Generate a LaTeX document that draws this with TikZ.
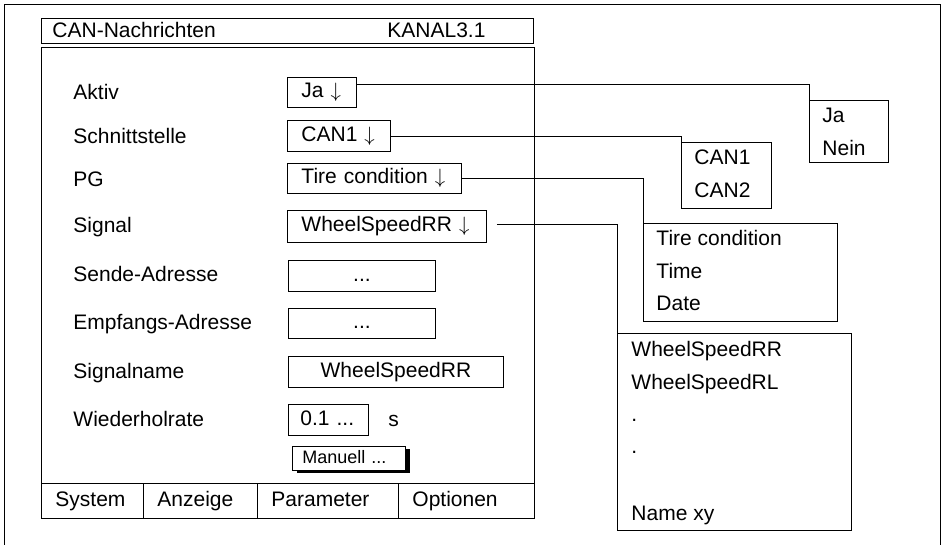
\documentclass[tikz,border=0pt]{standalone}
\usepackage{fontspec}
\setmainfont{Liberation Sans}
\usetikzlibrary{shadows}
\newcommand{\dnarrow}{$\downarrow$}
\begin{document}
\begin{tikzpicture}[x=1pt,y=-1pt,line width=0.9pt,
        every node/.style={font=\fontsize{21}{24}\selectfont},
        lbl/.style={anchor=base west,inner sep=0pt},
        box/.style={draw,anchor=north west,inner xsep=14pt,inner ysep=0pt,align=left,
            text height=15pt,text depth=4pt},
        cbox/.style={box,align=center}]
    \useasboundingbox (0,0) rectangle (942,544);
    % frame and window
    \draw (4,560) -- (4,4) -- (940,4) -- (940,560);
    \node[box,minimum width=492pt,minimum height=25pt] (title) at (41,18) {};
    \node[lbl] (titlel) at (52,37) {CAN-Nachrichten};
    \node[lbl] (titler) at (387,37) {KANAL3.1};
    \node[box,minimum width=493pt,minimum height=436pt] (panel) at (41,47) {};
    % labels
    \node[lbl] (l1) at (73,99) {Aktiv};
    \node[lbl] (l2) at (73,143) {Schnittstelle};
    \node[lbl] (l3) at (73,186) {PG};
    \node[lbl] (l4) at (73,232) {Signal};
    \node[lbl] (l5) at (73,281) {Sende-Adresse};
    \node[lbl] (l6) at (73,329) {Empfangs-Adresse};
    \node[lbl] (l7) at (73,378) {Signalname};
    \node[lbl] (l8) at (73,426) {Wiederholrate};
    % fields
    \node[box,text width=41pt,minimum height=30pt] (aktiv) at (287,77) {Ja \dnarrow};
    \node[box,text width=75pt,minimum height=31pt] (schnitt) at (287,120) {CAN1 \dnarrow};
    \node[box,text width=146pt,minimum height=30pt] (pg) at (287,163) {Tire condition \dnarrow};
    \node[box,text width=171pt,minimum height=32pt] (signal) at (287,210) {WheelSpeedRR \dnarrow};
    \node[cbox,text width=119pt,minimum height=31pt] (sende) at (288,260) {...};
    \node[cbox,text width=119pt,minimum height=30pt] (empf) at (288,308) {...};
    \node[cbox,text width=187pt,minimum height=31pt] (sname) at (288,356) {WheelSpeedRR};
    \node[box,inner xsep=12pt,text width=56pt,minimum height=31pt] (rate) at (288,404) {0.1 ...};
    \node[lbl] (unit) at (388,426) {s};
    \node[box,fill=white,inner xsep=10pt,text width=93pt,minimum height=24pt,
        text height=13pt,text depth=3pt,font=\fontsize{18}{21}\selectfont,
        drop shadow={shadow xshift=5pt,shadow yshift=-3pt,fill=black,opacity=1}] (manuell) at (292,446) {Manuell ...};
    % menu
    \node[box,text width=74pt,minimum height=35pt] (m1) at (41,483) {System};
    \node[box,text width=86pt,minimum height=35pt] (m2) at (143,483) {Anzeige};
    \node[box,text width=113pt,minimum height=35pt] (m3) at (257,483) {Parameter};
    \node[box,text width=108pt,minimum height=35pt] (m4) at (398,483) {Optionen};
    % lists
    \node[box,minimum width=79pt,minimum height=62pt] (janein) at (809,100) {};
    \node[lbl] (ja) at (822,122) {Ja};
    \node[lbl] (nein) at (822,155) {Nein};
    \node[box,minimum width=90pt,minimum height=66pt] (canlist) at (681,142) {};
    \node[lbl] (can1) at (694,164) {CAN1};
    \node[lbl] (can2) at (694,197) {CAN2};
    \node[box,minimum width=194pt,minimum height=98pt] (pglist) at (643,223) {};
    \node[lbl] (pg1) at (656,245) {Tire condition};
    \node[lbl] (pg2) at (656,278) {Time};
    \node[lbl] (pg3) at (656,310) {Date};
    \node[box,minimum width=234pt,minimum height=197pt] (siglist) at (617,333) {};
    \node[lbl] (sig1) at (631,356) {WheelSpeedRR};
    \node[lbl] (sig2) at (631,389) {WheelSpeedRL};
    \node[lbl] (sig3) at (631,421) {.};
    \node[lbl] (sig4) at (631,453) {.};
    \node[lbl] (sig5) at (631,520) {Name xy};
    % connectors
    \draw ([yshift=-7pt]aktiv.north east) -| (janein.north west);
    \draw (schnitt.east) -| (canlist.north west);
    \draw (pg.east) -| (pglist.north west);
    \draw ([xshift=10pt,yshift=2pt]signal.east) -| (siglist.north west);
\end{tikzpicture}
\end{document}
